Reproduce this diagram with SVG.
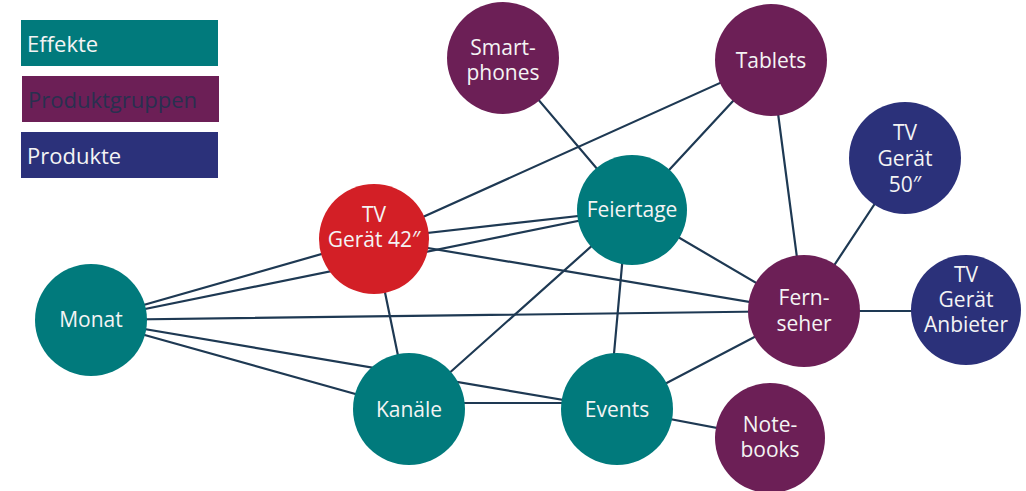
<svg xmlns="http://www.w3.org/2000/svg" width="1026" height="491" viewBox="0 0 1026 491">
<style>
.bg{fill:#ffffff}
.teal{fill:#017A7C}
.purple{fill:#6C1F56}
.navy{fill:#2B317A}
.red{fill:#D31F26}
.lbl{font-family:"Open Sans","Liberation Sans",sans-serif;font-size:21px;fill:#F4F4F4;text-anchor:middle}
.leg{font-family:"Open Sans","Liberation Sans",sans-serif;font-size:22px;fill:#F4F4F4}
.legdark{fill:#28304F}
#edges line{stroke:#1E3953;stroke-width:2.2;stroke-linecap:round}
</style>
<rect class="bg" x="0" y="0" width="1026" height="491"/>
<g id="legend">
  <g id="legend-effekte"><rect class="teal" x="21" y="20" width="197" height="46"/><text class="leg" x="27" y="52">Effekte</text></g>
  <g id="legend-produktgruppen"><rect class="purple" x="22" y="76" width="197" height="46"/><text class="leg legdark" x="28" y="108">Produktgruppen</text></g>
  <g id="legend-produkte"><rect class="navy" x="21" y="132" width="197" height="46"/><text class="leg" x="27" y="164">Produkte</text></g>
</g>
<g id="edges">
  <line x1="91" y1="320" x2="374" y2="239"/>
  <line x1="91" y1="320" x2="632" y2="210"/>
  <line x1="91" y1="320" x2="804" y2="311"/>
  <line x1="91" y1="320" x2="409" y2="409"/>
  <line x1="91" y1="320" x2="617" y2="409"/>
  <line x1="374" y1="239" x2="771" y2="60"/>
  <line x1="374" y1="239" x2="632" y2="210"/>
  <line x1="374" y1="239" x2="804" y2="311"/>
  <line x1="374" y1="239" x2="409" y2="409"/>
  <line x1="503" y1="58" x2="632" y2="210"/>
  <line x1="771" y1="60" x2="632" y2="210"/>
  <line x1="771" y1="60" x2="804" y2="311"/>
  <line x1="632" y1="210" x2="804" y2="311"/>
  <line x1="632" y1="210" x2="409" y2="409"/>
  <line x1="627" y1="210" x2="609" y2="409"/>
  <line x1="409" y1="403" x2="617" y2="403"/>
  <line x1="617" y1="409" x2="804" y2="311"/>
  <line x1="617" y1="409" x2="770" y2="438"/>
  <line x1="804" y1="311" x2="905" y2="158"/>
  <line x1="804" y1="311" x2="966" y2="311"/>
</g>
<g id="monat"><circle class="teal" cx="91" cy="320" r="56"/><text class="lbl" x="91" y="327">Monat</text></g>
<g id="tv42"><circle class="red" cx="374" cy="239" r="55"/><text class="lbl" x="374" y="222">TV</text><text class="lbl" x="374" y="247">Gerät 42″</text></g>
<g id="feiertage"><circle class="teal" cx="632" cy="210" r="55"/><text class="lbl" x="632" y="217">Feiertage</text></g>
<g id="smartphones"><circle class="purple" cx="503" cy="58" r="56"/><text class="lbl" x="503" y="55">Smart-</text><text class="lbl" x="503" y="80">phones</text></g>
<g id="tablets"><circle class="purple" cx="771" cy="60" r="56"/><text class="lbl" x="771" y="68">Tablets</text></g>
<g id="tv50"><circle class="navy" cx="905" cy="158" r="56"/><text class="lbl" x="905" y="140">TV</text><text class="lbl" x="905" y="166">Gerät</text><text class="lbl" x="905" y="192">50″</text></g>
<g id="fernseher"><circle class="purple" cx="804" cy="311" r="56"/><text class="lbl" x="804" y="305">Fern-</text><text class="lbl" x="804" y="331">seher</text></g>
<g id="anbieter"><circle class="navy" cx="966" cy="310" r="55"/><text class="lbl" x="966" y="282">TV</text><text class="lbl" x="966" y="307">Gerät</text><text class="lbl" x="966" y="332">Anbieter</text></g>
<g id="kanaele"><circle class="teal" cx="409" cy="409" r="56"/><text class="lbl" x="409" y="417">Kanäle</text></g>
<g id="events"><circle class="teal" cx="617" cy="409" r="56"/><text class="lbl" x="617" y="417">Events</text></g>
<g id="notebooks"><circle class="purple" cx="770" cy="438" r="55"/><text class="lbl" x="770" y="432">Note-</text><text class="lbl" x="770" y="457">books</text></g>
</svg>
